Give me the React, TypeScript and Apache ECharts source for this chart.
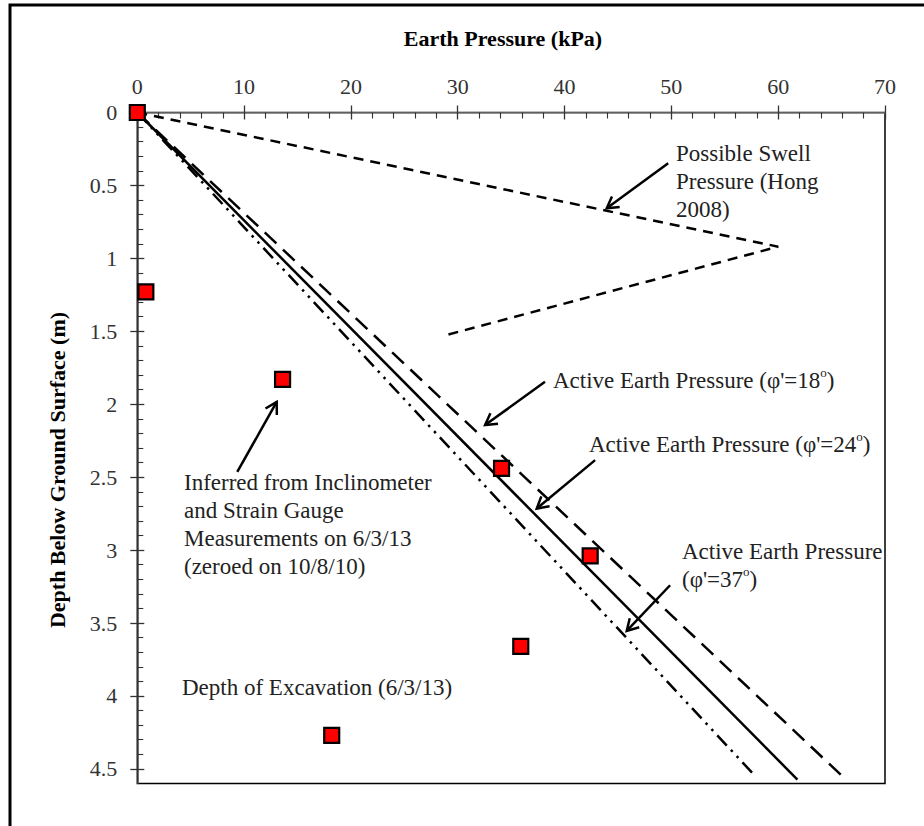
import React, { useEffect, useRef } from "react";
import * as echarts from "echarts";

// ---- data (kPa, depth m) ----
const measuredPoints: number[][] = [
  [0, 0], [0.8, 1.23], [13.6, 1.83], [34.1, 2.44], [42.4, 3.04], [35.9, 3.66], [18.2, 4.27],
];
const swellPressure: number[][] = [[0, 0], [60, 0.92], [28.7, 1.53]];
const activePhi18: number[][] = [[0, 0], [66.3, 4.57]];
const activePhi24: number[][] = [[0, 0], [61.8, 4.573]];
const activePhi37: number[][] = [[0, 0], [57.8, 4.545]];

const xMin = 0, xMax = 70, xStep = 10;
const yMin = 0, yMax = 4.6, yStep = 0.5;
const yTickValues = [0, 0.5, 1, 1.5, 2, 2.5, 3, 3.5, 4, 4.5];

// arrows in data coordinates (tail -> tip)
const arrowList: { from: number[]; to: number[] }[] = [
  { from: [49.7, 0.348], to: [43.95, 0.657] },
  { from: [38.17, 1.846], to: [32.56, 2.143] },
  { from: [42.86, 2.383], to: [37.4, 2.715] },
  { from: [49.88, 3.241], to: [45.82, 3.554] },
  { from: [9.36, 2.464], to: [13.05, 1.984] },
];

const annotationTexts = [
  { text: "Possible Swell\nPressure (Hong\n2008)", x: 676, y: 153 },
  { text: "Active Earth Pressure (φ'=18{s|o})", x: 553, y: 380 },
  { text: "Active Earth Pressure (φ'=24{s|o})", x: 589, y: 444 },
  { text: "Active Earth Pressure\n(φ'=37{s|o})", x: 682, y: 551 },
  { text: "Inferred from Inclinometer\nand Strain Gauge\nMeasurements on 6/3/13\n(zeroed on 10/8/10)", x: 184, y: 482 },
  { text: "Depth of Excavation (6/3/13)", x: 182, y: 687 },
];

const FONT = "'Liberation Serif', 'Times New Roman', serif";

export default function App() {
  const ref = useRef<HTMLDivElement>(null);
  useEffect(() => {
    if (!ref.current) return;
    const chart = echarts.init(ref.current, undefined, { renderer: "svg" });
    const labelStyle = { fontFamily: FONT, fontSize: 22, color: "#333" };
    const lineBase = (name: string, data: number[][], type: any) => ({
      name,
      type: "line",
      data,
      symbol: "none",
      lineStyle: { color: "#000", width: 2.5, type },
      z: 3,
    });
    chart.setOption({
      animation: false,
      backgroundColor: "#fff",
      grid: {
        left: 137.3, top: 112.5, right: 39, bottom: 42.5,
        show: true, borderColor: "#000", borderWidth: 1.5,
      },
      xAxis: [
        {
          type: "value", position: "top", min: xMin, max: xMax, interval: xStep,
          axisLine: { show: true, onZero: false, lineStyle: { color: "#808080", width: 1.5 } },
          axisTick: { show: true, inside: true, length: 7, lineStyle: { color: "#333", width: 1.3 } },
          minorTick: { show: true, splitNumber: 5, length: 6, lineStyle: { color: "#333", width: 1.1 } },
          axisLabel: { ...labelStyle, margin: 15 },
          splitLine: { show: false },
        },
        {
          type: "value", position: "top", min: xMin, max: xMax, interval: xStep,
          axisLine: { show: false },
          axisTick: { show: true, inside: false, length: 7, lineStyle: { color: "#333", width: 1.3 } },
          axisLabel: { show: false },
          splitLine: { show: false },
        },
      ],
      yAxis: [
        {
          type: "value", position: "left", inverse: true, min: yMin, max: yMax, interval: yStep,
          axisLine: { show: true, onZero: false, lineStyle: { color: "#444", width: 1.5 } },
          axisTick: { show: true, inside: true, length: 7, customValues: yTickValues, lineStyle: { color: "#333", width: 1.3 } },
          minorTick: { show: true, splitNumber: 5, length: 6, lineStyle: { color: "#333", width: 1.1 } },
          axisLabel: { ...labelStyle, margin: 20, customValues: yTickValues },
          splitLine: { show: false },
        },
        {
          type: "value", position: "left", inverse: true, min: yMin, max: yMax, interval: yStep,
          axisLine: { show: false },
          axisTick: { show: true, inside: false, length: 7, customValues: yTickValues, lineStyle: { color: "#333", width: 1.3 } },
          axisLabel: { show: false },
          splitLine: { show: false },
        },
      ],
      series: [
        lineBase("Possible Swell Pressure", swellPressure, [10, 7]),
        lineBase("Active φ'=18", activePhi18, [16, 9]),
        lineBase("Active φ'=24", activePhi24, "solid"),
        lineBase("Active φ'=37", activePhi37, [14, 6, 2.5, 6, 2.5, 6]),
        {
          name: "Measured", type: "scatter", data: measuredPoints,
          symbol: "rect", symbolSize: 15,
          itemStyle: { color: "#ff0000", borderColor: "#000", borderWidth: 2.2, opacity: 1 },
          z: 5,
        },
      ],
    });

    const px = (p: number[]) => chart.convertToPixel({ gridIndex: 0 }, p) as number[];
    const graphics: any[] = [];
    graphics.push({
      type: "rect", shape: { x: 10, y: 5, width: 1000, height: 1000 },
      style: { fill: "none", stroke: "#000", lineWidth: 3 }, silent: true,
    });
    graphics.push({
      type: "text", x: 503, y: 38,
      style: { text: "Earth Pressure (kPa)", fontFamily: FONT, fontSize: 22, fontWeight: "bold", fill: "#000", align: "center", verticalAlign: "middle" },
    });
    graphics.push({
      type: "text", x: 57, y: 470, rotation: Math.PI / 2,
      style: { text: "Depth Below Ground Surface (m)", fontFamily: FONT, fontSize: 22, fontWeight: "bold", fill: "#000", align: "center", verticalAlign: "middle" },
    });
    annotationTexts.forEach((a) => {
      graphics.push({
        type: "text", x: a.x, y: a.y - 14, z: 10,
        style: {
          text: a.text, fontFamily: FONT, fontSize: 23, fill: "#222", lineHeight: 28,
          align: "left", verticalAlign: "top",
          rich: { s: { fontFamily: FONT, fontSize: 13, fill: "#222", verticalAlign: "top", padding: [0, 0, 9, 0] } },
        },
      });
    });
    arrowList.forEach((a) => {
      const s = px(a.from), t = px(a.to);
      const dx = t[0] - s[0], dy = t[1] - s[1];
      const len = Math.hypot(dx, dy);
      const ux = dx / len, uy = dy / len;
      const L = 13, ang = Math.PI / 6;
      const rot = (c: number, sn: number) => [ux * c - uy * sn, ux * sn + uy * c];
      const r1 = rot(Math.cos(ang), Math.sin(ang));
      const r2 = rot(Math.cos(ang), -Math.sin(ang));
      graphics.push({
        type: "line", z: 10,
        shape: { x1: s[0], y1: s[1], x2: t[0], y2: t[1] },
        style: { stroke: "#000", lineWidth: 2.5 },
      });
      graphics.push({
        type: "polyline", z: 10,
        shape: { points: [[t[0] - r1[0] * L, t[1] - r1[1] * L], [t[0], t[1]], [t[0] - r2[0] * L, t[1] - r2[1] * L]] },
        style: { stroke: "#000", lineWidth: 2.5, fill: "none" },
      });
    });
    chart.setOption({ graphic: graphics });
    return () => chart.dispose();
  }, []);
  return (
    <div
      ref={ref}
      style={{ position: "absolute", left: 0, top: 0, width: 924, height: 826, background: "#fff" }}
    />
  );
}
